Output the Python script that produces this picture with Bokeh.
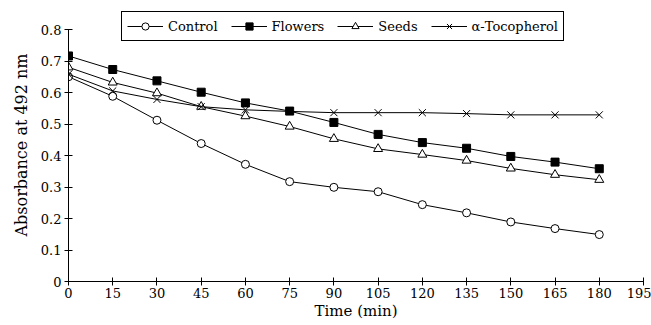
from bokeh.plotting import figure
from bokeh.models import FixedTicker, Legend, LegendItem, ColumnDataSource
from bokeh.embed import file_html
from bokeh.resources import INLINE

time_min = [0, 15, 30, 45, 60, 75, 90, 105, 120, 135, 150, 165, 180]
control = [0.650, 0.588, 0.512, 0.438, 0.372, 0.317, 0.299, 0.285, 0.244, 0.218, 0.189, 0.168, 0.149]
flowers = [0.716, 0.673, 0.637, 0.601, 0.567, 0.541, 0.505, 0.467, 0.441, 0.423, 0.397, 0.379, 0.358]
seeds = [0.680, 0.632, 0.598, 0.555, 0.525, 0.492, 0.453, 0.421, 0.403, 0.384, 0.359, 0.339, 0.323]
tocopherol = [0.658, 0.605, 0.578, 0.555, 0.545, 0.540, 0.536, 0.536, 0.536, 0.533, 0.529, 0.529, 0.529]

x_ticks = [0, 15, 30, 45, 60, 75, 90, 105, 120, 135, 150, 165, 180, 195]
y_ticks = [0, 0.1, 0.2, 0.3, 0.4, 0.5, 0.6, 0.7, 0.8]
y_tick_labels = ["0", "0.1", "0.2", "0.3", "0.4", "0.5", "0.6", "0.7", "0.8"]

FONT = "DejaVu Serif"

p = figure(output_backend="svg", toolbar_location=None,
           x_range=(0, 195), y_range=(0, 0.8667),
           frame_width=575, frame_height=273,
           min_border_left=68, min_border_top=8, min_border_bottom=44, min_border_right=8)
p.outline_line_color = None
p.xgrid.visible = False
p.ygrid.visible = False

for ax in (p.xaxis[0], p.yaxis[0]):
    ax.axis_line_color = "black"
    ax.major_tick_line_color = "black"
    ax.major_tick_in = 4
    ax.major_tick_out = 4
    ax.minor_tick_line_color = None
    ax.major_label_text_font = FONT
    ax.major_label_text_font_size = "13px"
    ax.major_label_text_color = "black"
    ax.axis_label_text_font = FONT
    ax.axis_label_text_font_style = "normal"
    ax.axis_label_text_color = "black"

p.xaxis.axis_label_text_font_size = "15px"
p.yaxis.axis_label_text_font_size = "16px"
p.yaxis.bounds = (0, 0.8)
p.xaxis.ticker = FixedTicker(ticks=x_ticks)
p.yaxis.ticker = FixedTicker(ticks=y_ticks)
p.yaxis.major_label_overrides = {t: l for t, l in zip(y_ticks, y_tick_labels)}
p.xaxis.axis_label = "Time (min)"
p.yaxis.axis_label = "Absorbance at 492 nm"
p.xaxis.major_label_standoff = 2
p.xaxis.axis_label_standoff = 1
p.yaxis.major_label_standoff = 3
p.yaxis.axis_label_standoff = 7

src = ColumnDataSource(dict(t=time_min, c=control, f=flowers, s=seeds, a=tocopherol))

lc = p.line("t", "c", source=src, line_color="black", line_width=1)
mc = p.scatter("t", "c", source=src, marker="circle", size=8, fill_color="white", line_color="black")
lf = p.line("t", "f", source=src, line_color="black", line_width=1)
mf = p.scatter("t", "f", source=src, marker="square", size=8, fill_color="black", line_color="black")
ls = p.line("t", "s", source=src, line_color="black", line_width=1)
ms = p.scatter("t", "s", source=src, marker="triangle", size=9, fill_color="white", line_color="black")
la = p.line("t", "a", source=src, line_color="black", line_width=1)
ma = p.scatter("t", "a", source=src, marker="x", size=10, line_color="black")

legend = Legend(items=[
    LegendItem(label="Control", renderers=[lc, mc]),
    LegendItem(label="Flowers", renderers=[lf, mf]),
    LegendItem(label="Seeds", renderers=[ls, ms]),
    LegendItem(label="α-Tocopherol", renderers=[la, ma]),
], orientation="horizontal", location=(53, 240))
legend.label_text_font = FONT
legend.label_text_font_size = "13px"
legend.label_text_color = "black"
legend.border_line_color = "black"
legend.border_line_alpha = 1
legend.border_line_width = 1
legend.background_fill_alpha = 1
legend.glyph_width = 36
legend.glyph_height = 18
legend.label_standoff = 5
legend.spacing = 13
legend.padding = 5
legend.margin = 0
legend.label_height = 18
p.add_layout(legend, "center")

open("out.html", "w").write(file_html(p, INLINE))
